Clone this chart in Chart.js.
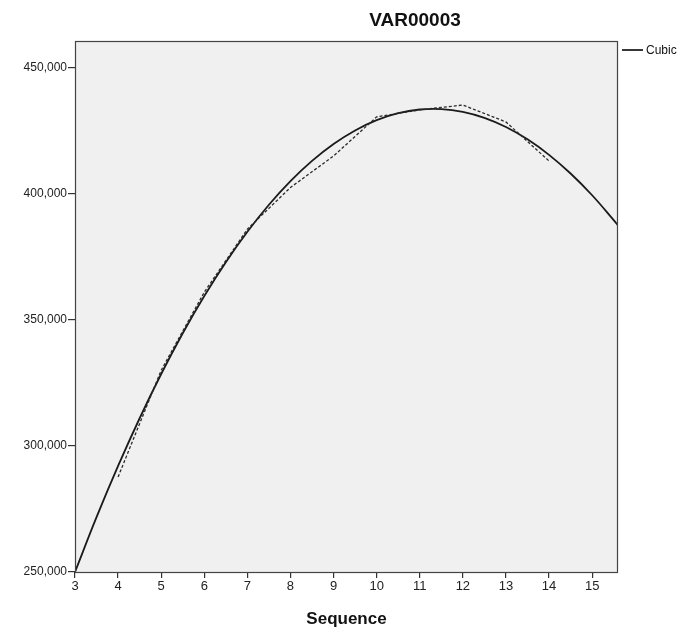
<!DOCTYPE html>
<html>
<head>
<meta charset="utf-8">
<script src="https://cdn.jsdelivr.net/npm/chart.js@4/dist/chart.umd.min.js"></script>
<style>
  html, body { margin: 0; padding: 0; background: #ffffff; }
  #wrap { width: 687px; height: 630px; position: relative; }
</style>
</head>
<body>
<div id="wrap"><canvas id="c" width="687" height="630"></canvas></div>
<script>
// Observed VAR00003 by sequence
const obsX = [4, 5, 6, 7, 8, 9, 10, 11, 12, 13, 14];
const obsY = [287700, 330000, 361000, 386000, 402500, 415000, 430500, 433300, 435200, 428500, 413000];

// Cubic fit curve, sampled along the sequence axis
const fitX = [3, 3.5, 4, 4.5, 5, 5.5, 6, 6.5, 7, 7.5, 8, 8.5, 9, 9.5, 10, 10.5, 11, 11.5, 12, 12.5, 13, 13.5, 14, 14.5, 15, 15.5, 15.6];
const fitY = [250000, 271730, 292050, 310980, 328520, 344680, 359460, 372880, 384940, 395650, 405020, 413040, 419750, 425130, 429200, 431970, 433440, 433620, 432520, 430140, 426500, 421600, 415450, 408050, 399420, 389560, 387440];

// Axis ticks
const xTicks = [3, 4, 5, 6, 7, 8, 9, 10, 11, 12, 13, 14, 15];
const yTicks = [250000, 300000, 350000, 400000, 450000];

const chartTitle = 'VAR00003';
const xTitle = 'Sequence';
const legendLabel = 'Cubic';

const FONT = '"Liberation Sans", Arial, sans-serif';

const toPoints = (xs, ys) => xs.map((x, i) => ({ x: x, y: ys[i] }));

const framePlugin = {
  id: 'frame',
  beforeDatasetsDraw(chart) {
    const { ctx, chartArea: a } = chart;
    ctx.save();
    ctx.fillStyle = '#f0f0f0';
    ctx.fillRect(a.left, a.top, a.right - a.left, a.bottom - a.top);
    ctx.restore();
  },
  afterDatasetsDraw(chart) {
    const { ctx, chartArea: a } = chart;
    ctx.save();
    ctx.strokeStyle = '#444444';
    ctx.lineWidth = 1.2;
    ctx.strokeRect(a.left + 0.5, a.top + 0.5, a.right - a.left - 1, a.bottom - a.top);
    ctx.restore();
  },
  afterDraw(chart) {
    const { ctx, chartArea: a } = chart;
    ctx.save();
    // title
    ctx.fillStyle = '#111111';
    ctx.font = 'bold 19px ' + FONT;
    ctx.textAlign = 'center';
    ctx.textBaseline = 'middle';
    ctx.fillText(chartTitle, 415, 21);
    // legend
    const ly = a.top + 9;
    ctx.strokeStyle = '#222222';
    ctx.lineWidth = 1.8;
    ctx.beginPath();
    ctx.moveTo(a.right + 4, ly);
    ctx.lineTo(a.right + 25, ly);
    ctx.stroke();
    ctx.font = '12px ' + FONT;
    ctx.textAlign = 'left';
    ctx.fillStyle = '#111111';
    ctx.fillText(legendLabel, a.right + 28, ly + 1);
    ctx.restore();
  }
};

new Chart(document.getElementById('c'), {
  type: 'line',
  data: {
    datasets: [
      {
        label: 'Observed',
        data: toPoints(obsX, obsY),
        borderColor: '#2a2a2a',
        borderWidth: 1.3,
        borderDash: [3, 2],
        pointRadius: 0,
        tension: 0,
        fill: false
      },
      {
        label: legendLabel,
        data: toPoints(fitX, fitY),
        borderColor: '#1a1a1a',
        borderWidth: 1.8,
        pointRadius: 0,
        tension: 0.4,
        fill: false
      }
    ]
  },
  options: {
    responsive: false,
    animation: false,
    events: [],
    layout: { padding: { left: 0, right: 69, top: 41, bottom: 0 } },
    plugins: {
      legend: { display: false },
      title: { display: false },
      tooltip: { enabled: false }
    },
    scales: {
      x: {
        type: 'linear',
        min: 3,
        max: 15.6,
        afterFit(s) { s.height = 58; },
        afterBuildTicks(s) { s.ticks = xTicks.map(v => ({ value: v })); },
        ticks: {
          color: '#222222',
          font: { family: FONT, size: 13 },
          padding: 1,
          maxRotation: 0,
          autoSkip: false
        },
        grid: { display: true, drawOnChartArea: false, drawTicks: true, tickLength: 6, color: '#333333', lineWidth: 1.2 },
        border: { display: false },
        title: {
          display: true,
          text: xTitle,
          color: '#111111',
          font: { family: FONT, size: 17, weight: 'bold' },
          padding: { top: 11, bottom: 0 }
        }
      },
      y: {
        type: 'linear',
        min: 250000,
        max: 460600,
        afterFit(s) { s.width = 75; },
        afterBuildTicks(s) { s.ticks = yTicks.map(v => ({ value: v })); },
        ticks: {
          color: '#222222',
          font: { family: FONT, size: 12 },
          padding: 1,
          callback: v => v.toLocaleString('en-US')
        },
        grid: { display: true, drawOnChartArea: false, drawTicks: true, tickLength: 7, color: '#333333', lineWidth: 1.2 },
        border: { display: false }
      }
    }
  },
  plugins: [framePlugin]
});
</script>
</body>
</html>
